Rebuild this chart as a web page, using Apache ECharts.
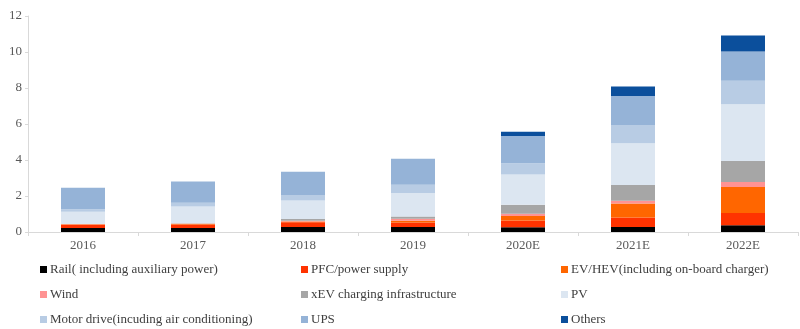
<!DOCTYPE html>
<html>
<head>
<meta charset="utf-8">
<script src="https://cdn.jsdelivr.net/npm/echarts@6/dist/echarts.min.js"></script>
<style>html,body{margin:0;padding:0;background:#fff}#c{width:800px;height:329px}</style>
</head>
<body>
<div id="c"></div>
<script>
const categories = ["2016", "2017", "2018", "2019", "2020E", "2021E", "2022E"];
const rail     = [0.22, 0.22, 0.28, 0.28, 0.27, 0.28, 0.37];
const pfc      = [0.18, 0.20, 0.26, 0.25, 0.37, 0.52, 0.69];
const evhev    = [0.03, 0.04, 0.05, 0.10, 0.25, 0.79, 1.44];
const wind     = [0.01, 0.01, 0.03, 0.10, 0.12, 0.14, 0.28];
const xev      = [0.01, 0.02, 0.10, 0.13, 0.51, 0.88, 1.17];
const pv       = [0.68, 0.92, 1.03, 1.30, 1.67, 2.32, 3.15];
const motor    = [0.13, 0.22, 0.30, 0.46, 0.63, 1.01, 1.30];
const ups      = [1.20, 1.17, 1.30, 1.45, 1.52, 1.61, 1.63];
const others   = [0.00, 0.00, 0.00, 0.00, 0.23, 0.53, 0.89];
const yTicks = [0, 2, 4, 6, 8, 10, 12];

const seriesDefs = [
  ["Rail( including auxiliary power)", rail, "#000000"],
  ["PFC/power supply", pfc, "#FF3300"],
  ["EV/HEV(including on-board charger)", evhev, "#FF6600"],
  ["Wind", wind, "#FF9393"],
  ["xEV charging infrastructure", xev, "#A6A6A6"],
  ["PV", pv, "#DCE6F1"],
  ["Motor drive(incuding air conditioning)", motor, "#B8CCE4"],
  ["UPS", ups, "#95B3D7"],
  ["Others", others, "#0B4F9C"]
];

const font = "Liberation Serif";
const legendPos = [
  [40, 263], [301, 263], [561, 263],
  [40, 288], [301, 288], [561, 288],
  [40, 313], [301, 313], [561, 313]
];

const chart = echarts.init(document.getElementById('c'));
chart.setOption({
  animation: false,
  backgroundColor: '#ffffff',
  grid: { left: 28, right: 2, top: 16, bottom: 97 },
  legend: seriesDefs.map((s, i) => ({
    data: [s[0]],
    left: legendPos[i][0],
    top: legendPos[i][1],
    icon: 'rect',
    itemWidth: 7,
    itemHeight: 7,
    padding: 0,
    selectedMode: false,
    textStyle: { fontFamily: font, fontSize: 13, color: '#404040', padding: [0, 0, 0, -2] }
  })),
  xAxis: {
    type: 'category',
    data: categories,
    axisLine: { lineStyle: { color: '#D9D9D9', width: 1 } },
    axisTick: { show: true, length: 4, lineStyle: { color: '#D9D9D9' } },
    axisLabel: { fontFamily: font, fontSize: 13, color: '#595959', margin: 7 }
  },
  yAxis: {
    type: 'value',
    min: yTicks[0],
    max: yTicks[yTicks.length - 1],
    interval: 2,
    axisLine: { show: true, lineStyle: { color: '#D9D9D9', width: 1 } },
    axisTick: { show: true, length: 3, lineStyle: { color: '#D9D9D9' } },
    splitLine: { show: false },
    axisLabel: { fontFamily: font, fontSize: 13, color: '#595959', margin: 6 }
  },
  series: seriesDefs.map(s => ({
    name: s[0],
    type: 'bar',
    stack: 'total',
    barWidth: 44,
    data: s[1],
    itemStyle: { color: s[2] }
  }))
});
</script>
</body>
</html>
